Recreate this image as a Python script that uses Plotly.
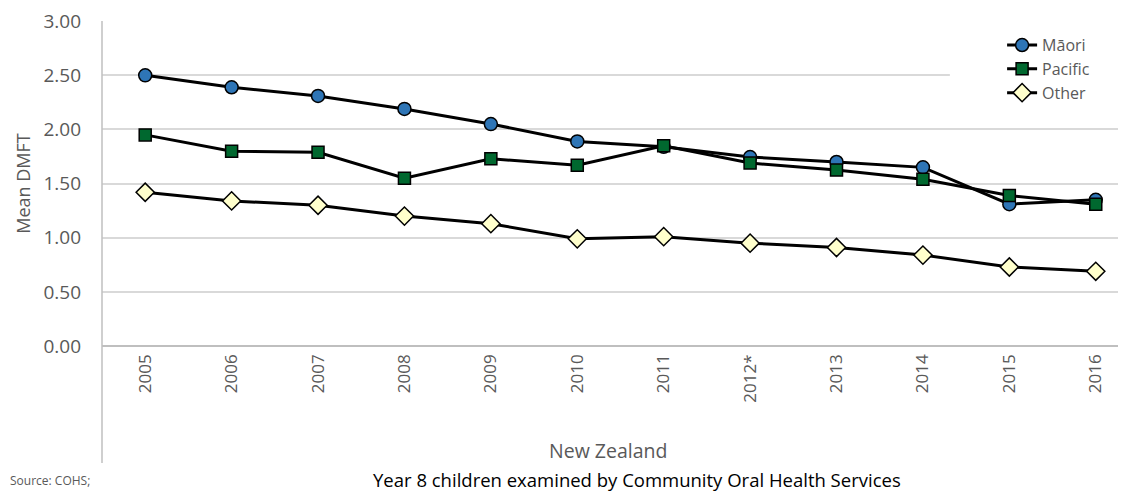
import plotly.graph_objects as go

# Mean DMFT, Year 8 children
years = ["2005", "2006", "2007", "2008", "2009", "2010", "2011", "2012*", "2013", "2014", "2015", "2016"]
maori = [2.50, 2.39, 2.31, 2.19, 2.05, 1.89, 1.84, 1.745, 1.70, 1.65, 1.31, 1.35]
pacific = [1.95, 1.80, 1.79, 1.55, 1.73, 1.67, 1.85, 1.69, 1.625, 1.54, 1.39, 1.31]
other = [1.42, 1.34, 1.30, 1.20, 1.13, 0.99, 1.01, 0.95, 0.91, 0.84, 0.73, 0.69]
y_ticks = [0, 0.5, 1.0, 1.5, 2.0, 2.5, 3.0]

font = "Open Sans"
grey = "#595959"

fig = go.Figure()

series = [
    ("Māori", maori, "circle", "#2e75b6", 13),
    ("Pacific", pacific, "square", "#00682f", 12),
    ("Other", other, "diamond", "#ffffcc", 14),
]
for name, vals, sym, col, sz in series:
    fig.add_trace(go.Scatter(
        x=years, y=vals, name=name, mode="lines+markers",
        line=dict(color="black", width=3),
        marker=dict(symbol=sym, color=col, size=sz, line=dict(color="black", width=1.5)),
    ))

# page body adds 8px margin, so the figure is 8px smaller and shifted
fig.update_layout(
    width=1118, height=485,
    margin=dict(l=94, r=0, t=13, b=147),
    paper_bgcolor="white", plot_bgcolor="white",
    font=dict(family=font, color=grey),
    showlegend=True,
    legend=dict(
        x=0.879, y=0.978, xanchor="left", yanchor="top",
        bgcolor="rgba(0,0,0,0)", font=dict(size=16, color=grey),
        itemwidth=30, tracegroupgap=0,
    ),
    xaxis=dict(
        type="category", range=[-0.5, 11.35],
        tickangle=-90, tickfont=dict(size=17, color=grey),
        showgrid=False, showline=False, zeroline=False, ticks="",
        ticklabelstandoff=4,
    ),
    yaxis=dict(
        range=[0, 3.002], tickvals=y_ticks, tickformat=".2f",
        tickfont=dict(size=19, color=grey), ticklabeloverflow="allow",
        gridcolor="#d9d9d9", gridwidth=1.5,
        zeroline=True, zerolinecolor="#bfbfbf", zerolinewidth=1.5,
        showline=False, ticks="", ticklabelstandoff=20,
        title=dict(text="Mean DMFT", font=dict(size=18, color=grey), standoff=8),
    ),
    shapes=[
        dict(type="line", xref="paper", yref="paper", x0=0, x1=0, y0=1, y1=-0.36,
             line=dict(color="#bfbfbf", width=1.5)),
        dict(type="rect", xref="paper", yref="y", x0=0.828, x1=1, y0=2.3, y1=2.9,
             fillcolor="white", line=dict(width=0), layer="above"),
    ],
    annotations=[
        dict(text="New Zealand", xref="paper", yref="paper", x=0.494, y=-0.323,
             xanchor="center", yanchor="middle", showarrow=False,
             font=dict(size=19.5, color=grey)),
        dict(text="Year 8 children examined by Community Oral Health Services",
             xref="paper", yref="paper", x=0.522, y=-0.412, xanchor="center",
             yanchor="middle", showarrow=False, font=dict(size=18.5, color="black")),
        dict(text="Source: COHS;", xref="paper", yref="paper", x=-0.0918, y=-0.415,
             xanchor="left", yanchor="middle", showarrow=False,
             font=dict(size=12, color=grey)),
    ],
)

fig.write_html("out.html")
